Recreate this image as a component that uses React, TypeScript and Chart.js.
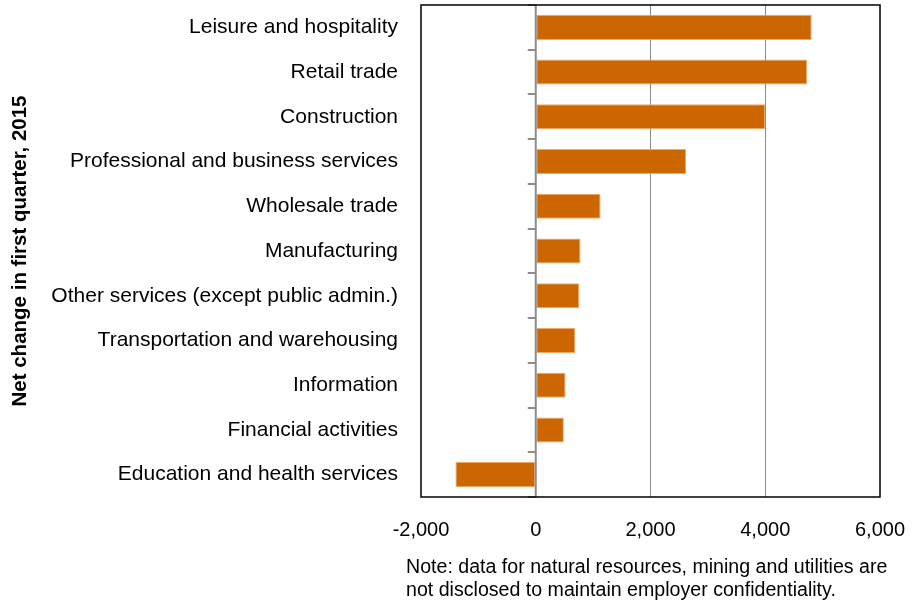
import React, { useEffect, useRef } from "react";
import { Chart, registerables } from "chart.js";

Chart.register(...registerables);

const categories = [
  "Leisure and hospitality",
  "Retail trade",
  "Construction",
  "Professional and business services",
  "Wholesale trade",
  "Manufacturing",
  "Other services (except public admin.)",
  "Transportation and warehousing",
  "Information",
  "Financial activities",
  "Education and health services",
];

const netChange = [4810, 4730, 4000, 2620, 1130, 780, 760, 690, 520, 490, -1400];

const xMin = -2000;
const xMax = 6000;
const xStep = 2000;

const yAxisTitle = "Net change in first quarter, 2015";
const noteLines = [
  "Note: data for natural resources, mining and utilities are",
  "not disclosed to maintain employer confidentiality.",
];

const FONT = "'Liberation Sans', Arial, sans-serif";

const decorPlugin = {
  id: "decor",
  afterDatasetsDraw(chart: any) {
    const { ctx, chartArea, scales } = chart;
    const xs = scales.x;
    const ys = scales.y;
    const x0 = xs.getPixelForValue(0);
    ctx.save();
    // zero axis line
    ctx.strokeStyle = "#8c8c8c";
    ctx.lineWidth = 2;
    ctx.beginPath();
    ctx.moveTo(x0, chartArea.top);
    ctx.lineTo(x0, chartArea.bottom);
    ctx.stroke();
    // tick marks at category boundaries
    for (let i = 0; i <= categories.length; i++) {
      const y = Math.round(ys.getPixelForValue(i - 0.5));
      ctx.beginPath();
      ctx.moveTo(x0 - 8, y);
      ctx.lineTo(x0, y);
      ctx.stroke();
    }
    // border
    ctx.strokeStyle = "#000";
    ctx.lineWidth = 1.5;
    ctx.strokeRect(
      chartArea.left,
      chartArea.top,
      chartArea.right - chartArea.left,
      chartArea.bottom - chartArea.top
    );
    ctx.restore();
  },
  afterDraw(chart: any) {
    const { ctx } = chart;
    ctx.save();
    ctx.fillStyle = "#000";
    ctx.font = `19.6px ${FONT}`;
    ctx.textAlign = "left";
    ctx.textBaseline = "alphabetic";
    noteLines.forEach((line, i) => {
      ctx.fillText(line, 406, 573 + i * 23);
    });
    ctx.restore();
  },
};

export default function App() {
  const canvasRef = useRef<HTMLCanvasElement | null>(null);

  useEffect(() => {
    if (!canvasRef.current) return;
    const chart = new Chart(canvasRef.current, {
      type: "bar",
      data: {
        labels: categories,
        datasets: [
          {
            data: netChange,
            backgroundColor: "#CC6600",
            borderColor: "#F0A868",
            borderWidth: 1,
            borderSkipped: false,
            barPercentage: 0.56,
            categoryPercentage: 1,
          },
        ],
      },
      options: {
        indexAxis: "y",
        responsive: false,
        animation: false,
        layout: { padding: { top: 5, right: 38, left: 0, bottom: 0 } },
        plugins: {
          legend: { display: false },
          tooltip: { enabled: false },
        },
        scales: {
          x: {
            min: xMin,
            max: xMax,
            ticks: {
              stepSize: xStep,
              color: "#000",
              font: { family: FONT, size: 20 },
              padding: 21,
              callback: (v: any) => Number(v).toLocaleString("en-US"),
            },
            grid: {
              drawTicks: false,
              color: (c: any) =>
                c.tick && (c.tick.value === xMin || c.tick.value === xMax || c.tick.value === 0)
                  ? "rgba(0,0,0,0)"
                  : "#8a8a8a",
              lineWidth: 1,
            },
            border: { display: false },
            afterFit: (s: any) => {
              s.height = 111;
              s.paddingLeft = 0;
              s.paddingRight = 0;
            },
          },
          y: {
            ticks: {
              color: "#000",
              font: { family: FONT, size: 21 },
              padding: 0,
            },
            grid: {
              display: true,
              drawOnChartArea: false,
              drawTicks: true,
              tickLength: 23,
              color: "rgba(0,0,0,0)",
            },
            border: { display: false },
            title: {
              display: true,
              text: yAxisTitle,
              color: "#000",
              font: { family: FONT, size: 20.5, weight: "bold" },
              padding: { top: 8, bottom: 0 },
            },
            afterFit: (s: any) => {
              s.width = 421;
              s.paddingTop = 0;
              s.paddingBottom = 0;
            },
          },
        },
      },
      plugins: [decorPlugin],
    });
    return () => chart.destroy();
  }, []);

  return (
    <div style={{ position: "fixed", left: 0, top: 0, width: 918, height: 608, background: "#fff" }}>
      <canvas ref={canvasRef} width={918} height={608} />
    </div>
  );
}
